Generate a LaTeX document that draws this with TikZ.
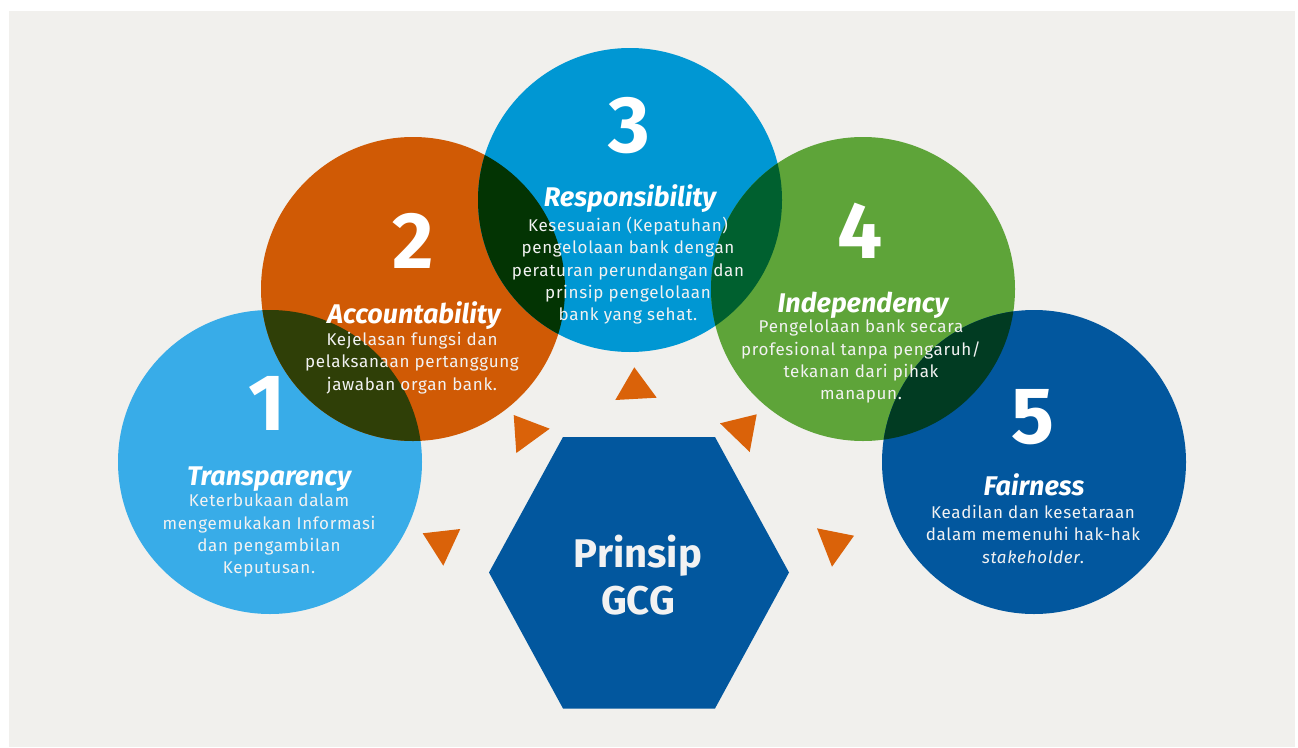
\documentclass[tikz,border=0pt]{standalone}
\usepackage{fontspec}
\setmainfont{Fira Sans}
\definecolor{bgGray}{HTML}{F1F0ED}
\definecolor{cTransp}{HTML}{38ACE8}
\definecolor{cAccount}{HTML}{D05A05}
\definecolor{cRespon}{HTML}{0097D3}
\definecolor{cIndep}{HTML}{5EA439}
\definecolor{cFair}{HTML}{02579E}
\definecolor{cArrow}{HTML}{DA6209}
\definecolor{ovOne}{HTML}{2F3F07}
\definecolor{ovTwo}{HTML}{033403}
\definecolor{ovThree}{HTML}{00602F}
\definecolor{ovFour}{HTML}{013B22}
\definecolor{txtWhite}{HTML}{F2F2F2}
\begin{document}
\begin{tikzpicture}[x=1pt, y=-1pt,
  num/.style={font=\fontsize{80}{80}\selectfont\bfseries, text=white, inner sep=0pt, anchor=base},
  ttl/.style={font=\fontsize{27}{30}\selectfont\bfseries\itshape, text=white, inner sep=0pt, anchor=base},
  desc/.style={font=\fontsize{17}{22.3}\selectfont\addfontfeatures{LetterSpace=4}, text=txtWhite, align=center, inner sep=0pt, anchor=north}]
\useasboundingbox (0,0) rectangle (1298,747);
\fill[white] (0,0) rectangle (1298,747);
\fill[bgGray] (9,11) rectangle (1295,747);
% circle centres
\coordinate (ctr1) at (270,462);
\coordinate (ctr2) at (413,289);
\coordinate (ctr3) at (630,200);
\coordinate (ctr4) at (863,289);
\coordinate (ctr5) at (1034,462);
\fill[cTransp] (ctr1) circle (152);
\fill[cAccount] (ctr2) circle (152);
\fill[cRespon] (ctr3) circle (152);
\fill[cIndep] (ctr4) circle (152);
\fill[cFair] (ctr5) circle (152);
% overlaps
\begin{scope}
  \clip (ctr1) circle (152);
  \fill[ovOne] (ctr2) circle (152);
\end{scope}
\begin{scope}
  \clip (ctr2) circle (152);
  \fill[ovTwo] (ctr3) circle (152);
\end{scope}
\begin{scope}
  \clip (ctr3) circle (152);
  \fill[ovThree] (ctr4) circle (152);
\end{scope}
\begin{scope}
  \clip (ctr4) circle (152);
  \fill[ovFour] (ctr5) circle (152);
\end{scope}
% hexagon
\fill[cFair] (489,572.5) -- (563,437) -- (715,437) -- (789,572.5) -- (715,708.5) -- (563,708.5) -- cycle;
\node[font=\fontsize{40}{47}\selectfont\bfseries, text=txtWhite, align=center] (gcg) at (638,575) {Prinsip\\GCG};
% arrows
\fill[cArrow] (422.7,533.3) -- (460.3,529) -- (443.3,565.7) -- cycle;
\fill[cArrow] (513.7,415) -- (549.7,428.7) -- (516.3,453) -- cycle;
\fill[cArrow] (634.3,367.3) -- (656.7,397.7) -- (615.3,400) -- cycle;
\fill[cArrow] (720,423.3) -- (756.7,414.3) -- (749.7,452) -- cycle;
\fill[cArrow] (817,528.3) -- (854,535.7) -- (832,566.7) -- cycle;
% numbers
\node[num] (n1) at (267,430) {1};
\node[num] (n2) at (413,268) {2};
\node[num] (n3) at (629,152) {3};
\node[num] (n4) at (860,258) {4};
\node[num] (n5) at (1033,443) {5};
% titles
\node[ttl] (t1) at (269,485) {Transparency};
\node[ttl] (t2) at (414,323) {Accountability};
\node[ttl] (t3) at (630,206) {Responsibility};
\node[ttl] (t4) at (863,312) {Independency};
\node[ttl] (t5) at (1034,495) {Fairness};
% descriptions
\node[desc] (d1) at (269,494) {Keterbukaan dalam\\mengemukakan Informasi\\dan pengambilan\\Keputusan.};
\node[desc] (d2) at (412,332) {Kejelasan fungsi dan\\pelaksanaan pertanggung\\jawaban organ bank.};
\node[desc] (d3) at (628,217) {Kesesuaian (Kepatuhan)\\pengelolaan bank dengan\\peraturan perundangan dan\\prinsip pengelolaan\\bank yang sehat.};
\node[desc] (d4) at (861,320) {Pengelolaan bank secara\\profesional tanpa pengaruh/\\tekanan dari pihak\\manapun.};
\node[desc] (d5) at (1033,505) {Keadilan dan kesetaraan\\dalam memenuhi hak-hak\\\textit{stakeholder}.};
\end{tikzpicture}
\end{document}
